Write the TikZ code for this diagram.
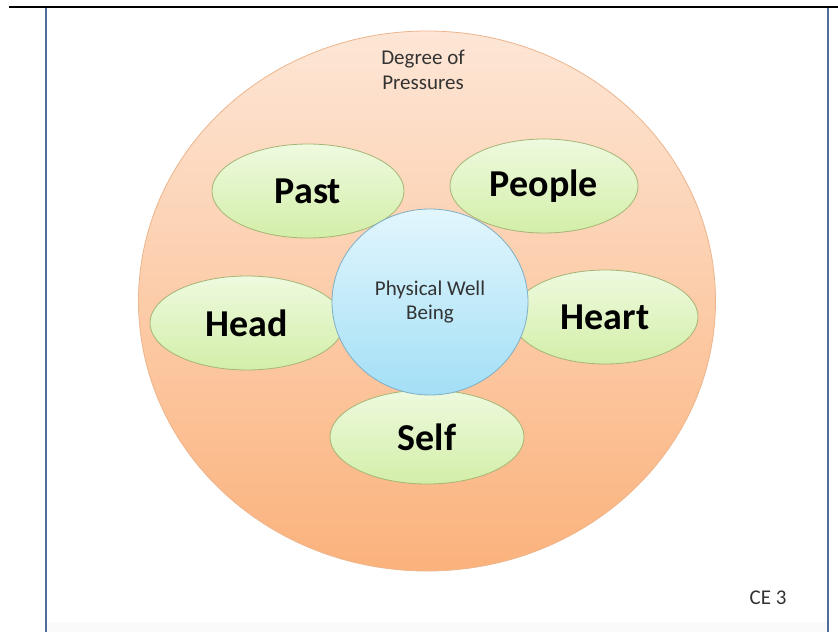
\documentclass[tikz,border=0pt]{standalone}
\usepackage{fontspec}
\setmainfont{Carlito}
\usepackage{tikz}
\usetikzlibrary{shapes.geometric}
\definecolor{peachtop}{HTML}{FDE6D6}
\definecolor{peachbot}{HTML}{FBB27C}
\definecolor{peachline}{HTML}{EDB58C}
\definecolor{greentop}{HTML}{EEFADF}
\definecolor{greenbot}{HTML}{D3EEA8}
\definecolor{greenline}{HTML}{A6B575}
\definecolor{bluetop}{HTML}{E2F6FD}
\definecolor{bluebot}{HTML}{A3DFF6}
\definecolor{blueline}{HTML}{7EAFC6}
\definecolor{frameline}{HTML}{506C97}
\definecolor{smalltext}{HTML}{333333}

\begin{document}
\begin{tikzpicture}[x=1pt,y=-1pt,
            pressure/.style={ellipse, draw=peachline, line width=.8pt,
                top color=peachtop, bottom color=peachbot,
                minimum width=577pt, minimum height=540pt, inner sep=0pt},
            factor/.style={ellipse, draw=greenline, line width=.8pt,
                top color=greentop, bottom color=greenbot, inner sep=0pt,
                minimum height=94pt, font=\fontsize{38}{40}\selectfont\bfseries},
            core/.style={ellipse, draw=blueline, line width=.8pt,
                top color=bluetop, bottom color=bluebot, inner sep=0pt,
                minimum width=196pt, minimum height=186pt, align=center,
                text=smalltext, font=\fontsize{21}{24}\selectfont},
            note/.style={align=center, text=smalltext,
                font=\fontsize{21}{25}\selectfont}]
            \useasboundingbox (0,0) rectangle (838,632);
            \fill[white] (0,0) rectangle (838,632);
            \fill[black!2] (46,622) rectangle (828,632);

            % frame
            \draw[black, line width=2.4pt] (9,7) -- (838,7);
            \draw[frameline, line width=1.8pt] (46,8) -- (46,632);
            \draw[frameline, line width=1.8pt] (828,8) -- (828,632);

            \node[pressure] (outer) at (427,301) {};
            \node[note] (degree) at (423,70) {Degree of\\Pressures};

            %the five pressures
            \node[factor, minimum width=192pt] (past) at (308,191) {Past};
            \node[factor, minimum width=188pt] (people) at (544,186) {People};
            \node[factor, minimum width=194pt] (head) at (247,323) {Head};
            \node[factor, minimum width=186pt] (heart) at (605,317) {Heart};
            \node[factor, minimum width=194pt] (self) at (427,437) {Self};

            \node[core] (well) at (430,302) {Physical Well\\Being};

            \node[note] (ce) at (768,598) {CE 3};
        \end{tikzpicture}
\end{document}
